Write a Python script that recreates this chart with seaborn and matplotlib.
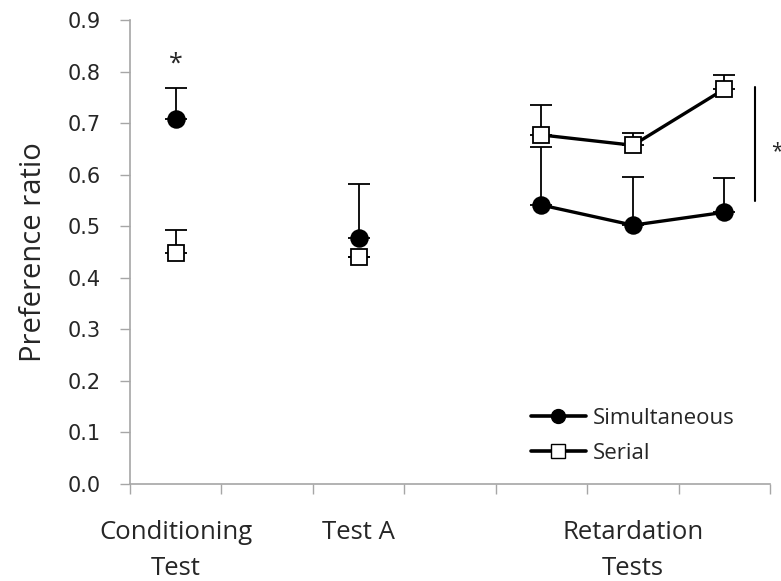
import numpy as np
import pandas as pd
import seaborn as sns
import matplotlib
matplotlib.use("Agg")
import matplotlib.pyplot as plt
from matplotlib.lines import Line2D

sns.set_style("white")
plt.rcParams["font.family"] = ["Open Sans", "DejaVu Sans"]

# Test phases and x positions (category slots on a 0..7 axis)
phases = ["Conditioning\nTest", "Test A", "Retardation\nTests"]
phase_pos = [0.5, 2.5, 5.5]
positions = [0.5, 2.5, 4.5, 5.5, 6.5]
segment = ["cond", "testA", "retard", "retard", "retard"]

# Mean preference ratios and SEM (upper bars only)
simultaneous = [0.708, 0.477, 0.541, 0.502, 0.527]
simultaneous_err = [0.060, 0.105, 0.113, 0.093, 0.066]
serial = [0.448, 0.440, 0.677, 0.657, 0.766]
serial_err = [0.045, 0.000, 0.058, 0.024, 0.027]

yticks = [0.0, 0.1, 0.2, 0.3, 0.4, 0.5, 0.6, 0.7, 0.8, 0.9]

df = pd.concat([
    pd.DataFrame({"pos": positions, "ratio": simultaneous, "err": simultaneous_err,
                  "group": "Simultaneous", "segment": segment}),
    pd.DataFrame({"pos": positions, "ratio": serial, "err": serial_err,
                  "group": "Serial", "segment": segment}),
])

fig = plt.figure(figsize=(7.81, 5.81), dpi=100)
ax = fig.add_axes([0.1665, 0.167, 0.8195, 0.7986])

styles = {
    "Simultaneous": dict(marker="o", mfc="black", ms=12),
    "Serial": dict(marker="s", mfc="white", ms=11),
}

for name, sub in df.groupby("group", sort=False):
    # one-sided error bars
    ax.errorbar(sub["pos"], sub["ratio"],
                yerr=[np.zeros(len(sub)), sub["err"]],
                fmt="none", ecolor="black", elinewidth=1.3, capsize=8,
                capthick=1.3, zorder=2)
    # connecting line across the retardation tests
    ret = sub[sub["segment"] == "retard"]
    sns.lineplot(data=ret, x="pos", y="ratio", ax=ax, color="black",
                 linewidth=2.4, zorder=3, legend=False, sort=True)
    st = styles[name]
    ax.plot(sub["pos"], sub["ratio"], linestyle="none", marker=st["marker"],
            markerfacecolor=st["mfc"], markeredgecolor="black",
            markeredgewidth=1.3, markersize=st["ms"], zorder=4)

ax.set_xlim(0, 7)
ax.set_ylim(0, 0.9)
ax.set_yticks(yticks)
ax.set_yticklabels([f"{t:.1f}" for t in yticks], fontfamily="DejaVu Sans",
                   fontsize=15)
ax.set_xticks(range(8))
ax.set_xticklabels([])
ax.tick_params(axis="y", length=7, width=1, color="#a6a6a6", pad=14, left=True)
ax.tick_params(axis="x", length=7, width=1, color="#a6a6a6", bottom=True)
for s in ["top", "right"]:
    ax.spines[s].set_visible(False)
for s in ["left", "bottom"]:
    ax.spines[s].set_color("#a6a6a6")
    ax.spines[s].set_linewidth(1.2)

ax.set_xlabel("")
ax.set_ylabel("Preference ratio", fontsize=21, labelpad=14)

# phase labels under the axis
for lab, p in zip(phases, phase_pos):
    ax.text(p, -0.07, lab, ha="center", va="top", fontsize=18.5,
            linespacing=1.55, transform=ax.transData, clip_on=False)

# significance markers
ax.text(0.5, 0.815, "*", ha="center", va="center", fontsize=18)
ax.plot([6.83, 6.83], [0.549, 0.77], color="black", linewidth=1.5,
        clip_on=False)
ax.text(7.07, 0.645, "*", ha="center", va="center", fontsize=15,
        clip_on=False)

handles = [
    Line2D([], [], color="black", linewidth=2.6, marker="o",
           markerfacecolor="black", markeredgecolor="black", markersize=10),
    Line2D([], [], color="black", linewidth=2.6, marker="s",
           markerfacecolor="white", markeredgecolor="black", markersize=9.5),
]
ax.legend(handles, ["Simultaneous", "Serial"], loc="lower left",
          bbox_to_anchor=(0.612, 0.024), frameon=False, fontsize=16,
          handlelength=2.5, handletextpad=0.3, labelspacing=0.62,
          borderaxespad=0)

fig.savefig("out.png", dpi=100)
